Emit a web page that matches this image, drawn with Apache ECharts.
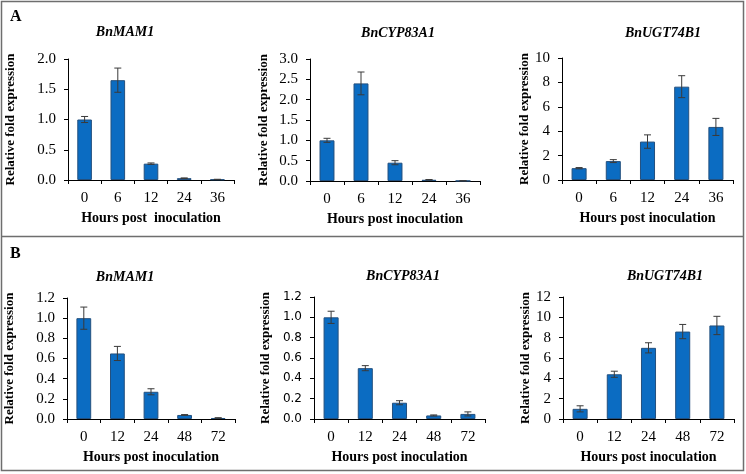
<!DOCTYPE html>
<html><head><meta charset="utf-8">
<script src="https://cdn.jsdelivr.net/npm/echarts@6/dist/echarts.min.js"></script>
<style>html,body{margin:0;padding:0;background:#fff}#c{width:746px;height:474px}</style>
</head><body><div id="c"></div>
<script>
// ---- data ----
const hoursA = ['0', '6', '12', '24', '36'];
const hoursB = ['0', '12', '24', '48', '72'];
const genes = ['BnMAM1', 'BnCYP83A1', 'BnUGT74B1'];
const panelLetters = ['A', 'B'];
const xTitleA1 = 'Hours post  inoculation';
const xTitle = 'Hours post inoculation';
const yTitle = 'Relative fold expression';

const meanA_MAM1 = [1.00, 1.65, 0.27, 0.03, 0.01];
const errA_MAM1  = [0.05, 0.20, 0.012, 0.004, 0.002];
const meanA_CYP  = [1.00, 2.40, 0.45, 0.03, 0.005];
const errA_CYP   = [0.05, 0.28, 0.05, 0.006, 0.001];
const meanA_UGT  = [0.97, 1.55, 3.15, 7.65, 4.35];
const errA_UGT   = [0.05, 0.12, 0.55, 0.90, 0.70];
const meanB_MAM1 = [1.00, 0.65, 0.27, 0.04, 0.01];
const errB_MAM1  = [0.11, 0.07, 0.03, 0.004, 0.003];
const meanB_CYP  = [1.00, 0.50, 0.16, 0.035, 0.05];
const errB_CYP   = [0.06, 0.025, 0.02, 0.005, 0.02];
const meanB_UGT  = [1.0, 4.4, 7.0, 8.6, 9.2];
const errB_UGT   = [0.3, 0.3, 0.5, 0.7, 0.9];

const yMax  = [2, 3, 10, 1.2, 1.2, 12];
const yStep = [0.5, 0.5, 2, 0.2, 0.2, 2];
const yDecimals = [1, 1, 0, 1, 1, 0];

// ---- layout ----
const panels = [
  {cats: hoursA, mean: meanA_MAM1, err: errA_MAM1, gene: genes[0], xName: xTitleA1,
   grid: {left: 68, top: 59, width: 166, height: 121}, title: [125, 32], yFont: 'Liberation Serif', yFs: 15, nameGap: 51},
  {cats: hoursA, mean: meanA_CYP, err: errA_CYP, gene: genes[1], xName: xTitle,
   grid: {left: 310, top: 59, width: 170, height: 122}, title: [398, 33], yFont: 'Liberation Serif', yFs: 15, nameGap: 40},
  {cats: hoursA, mean: meanA_UGT, err: errA_UGT, gene: genes[2], xName: xTitle,
   grid: {left: 562, top: 58, width: 171, height: 122}, title: [663, 33], yFont: 'Liberation Serif', yFs: 15, nameGap: 30},
  {cats: hoursB, mean: meanB_MAM1, err: errB_MAM1, gene: genes[0], xName: xTitle,
   grid: {left: 67, top: 298, width: 168, height: 121}, title: [125, 277], yFont: 'Liberation Serif', yFs: 15, nameGap: 51},
  {cats: hoursB, mean: meanB_CYP, err: errB_CYP, gene: genes[1], xName: xTitle,
   grid: {left: 314, top: 297, width: 171, height: 122}, title: [403, 276], yFont: 'DejaVu Sans', yFs: 12, nameGap: 42},
  {cats: hoursB, mean: meanB_UGT, err: errB_UGT, gene: genes[2], xName: xTitle,
   grid: {left: 563, top: 297, width: 171, height: 122}, title: [665, 276], yFont: 'Liberation Serif', yFs: 15, nameGap: 31}
];

const serif = 'Liberation Serif';
const grids = [], xAxes = [], yAxes = [], series = [], graphics = [];

function errItem(params, api) {
  const x = api.value(0), lo = api.value(1), hi = api.value(2);
  const pHi = api.coord([x, hi]);
  const pLo = api.coord([x, lo]);
  const w = 3.5;
  const st = {stroke: '#3a3a3a', lineWidth: 1};
  return {type: 'group', children: [
    {type: 'line', shape: {x1: pHi[0], y1: pHi[1], x2: pLo[0], y2: pLo[1]}, style: st},
    {type: 'line', shape: {x1: pHi[0] - w, y1: pHi[1], x2: pHi[0] + w, y2: pHi[1]}, style: st},
    {type: 'line', shape: {x1: pLo[0] - w, y1: pLo[1], x2: pLo[0] + w, y2: pLo[1]}, style: st}
  ]};
}

panels.forEach((p, i) => {
  grids.push(Object.assign({containLabel: false}, p.grid));
  xAxes.push({
    type: 'category', gridIndex: i, data: p.cats,
    name: p.xName, nameLocation: 'middle', nameGap: 31,
    nameTextStyle: {fontFamily: serif, fontWeight: 'bold', fontSize: 14, color: '#000'},
    axisLine: {lineStyle: {color: '#000', width: 1}},
    axisTick: {show: true, alignWithLabel: false, length: 4, lineStyle: {color: '#000'}},
    axisLabel: {fontFamily: serif, fontSize: 15, color: '#000', margin: 11}
  });
  yAxes.push({
    type: 'value', gridIndex: i, min: 0, max: yMax[i], interval: yStep[i],
    name: yTitle, nameLocation: 'middle', nameGap: p.nameGap,
    nameTextStyle: {fontFamily: serif, fontWeight: 'bold', fontSize: 13, color: '#000'},
    axisLine: {show: true, lineStyle: {color: '#000', width: 1}},
    axisTick: {show: true, length: 4, lineStyle: {color: '#000'}},
    splitLine: {show: false},
    axisLabel: {fontFamily: p.yFont, fontSize: p.yFs, color: '#000', margin: 12,
      formatter: v => v.toFixed(yDecimals[i])}
  });
  series.push({
    type: 'bar', xAxisIndex: i, yAxisIndex: i, data: p.mean, barWidth: '44%',
    itemStyle: {color: '#0b6cc2', borderColor: '#24507e', borderWidth: 1},
    animation: false
  });
  series.push({
    type: 'custom', xAxisIndex: i, yAxisIndex: i, z: 5, renderItem: errItem,
    data: p.mean.map((m, k) => [k, m - p.err[k], m + p.err[k]]),
    animation: false
  });
  graphics.push({
    type: 'text', x: p.title[0], y: p.title[1],
    style: {text: p.gene, font: 'italic bold 14px "Liberation Serif"', fill: '#000',
      textAlign: 'center', textVerticalAlign: 'middle'}
  });
});

graphics.push(
  {type: 'text', x: 10, y: 17, style: {text: panelLetters[0], font: 'bold 16px "Liberation Serif"', fill: '#000', textVerticalAlign: 'middle'}},
  {type: 'text', x: 10, y: 254, style: {text: panelLetters[1], font: 'bold 16px "Liberation Serif"', fill: '#000', textVerticalAlign: 'middle'}},
  {type: 'rect', shape: {x: 1.5, y: 1.5, width: 742, height: 469}, style: {fill: 'none', stroke: '#6e6e6e', lineWidth: 1.5}},
  {type: 'line', shape: {x1: 1.5, y1: 236.5, x2: 743.5, y2: 236.5}, style: {stroke: '#6e6e6e', lineWidth: 1.5}}
);

const chart = echarts.init(document.getElementById('c'), null, {renderer: 'canvas'});
chart.setOption({
  animation: false,
  backgroundColor: '#fff',
  grid: grids, xAxis: xAxes, yAxis: yAxes, series: series, graphic: graphics
});
</script></body></html>
